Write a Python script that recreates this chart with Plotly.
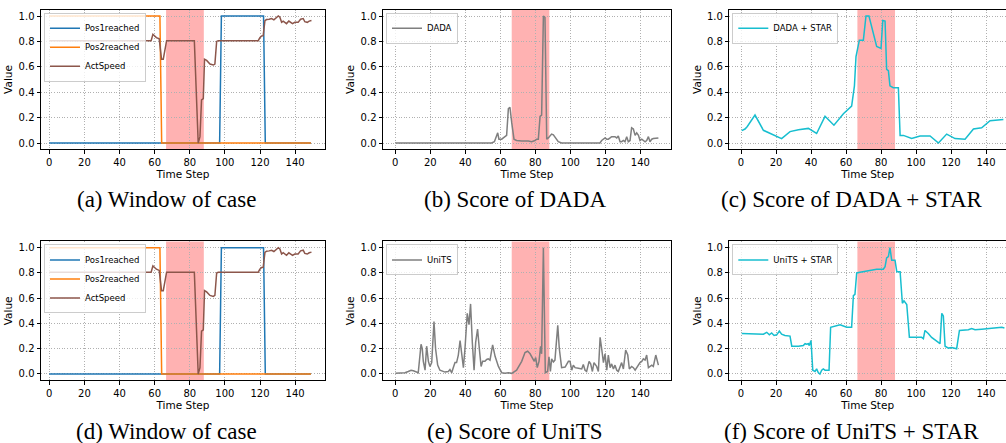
import plotly.graph_objects as go

# ---------------- data ----------------
TICKS_X = [0, 20, 40, 60, 80, 100, 120, 140]
TICKS_Y = [0.0, 0.2, 0.4, 0.6, 0.8, 1.0]
TICKTEXT_Y = ["0.0", "0.2", "0.4", "0.6", "0.8", "1.0"]
ANOMALY = [66.5, 88.0]

# window of case (panels a and d)
pos1_t = [0, 97, 98, 122, 123, 149]
pos1_v = [0, 0, 1, 1, 0, 0]
pos2_t = [0, 63, 64, 149]
pos2_v = [1, 1, 0, 0]
speed_t = [0, 58, 59, 60, 61, 62.6, 63.9, 64.9, 66.8, 82.6, 83.8, 84.8, 85.8, 86.7,
           87.7, 88.4, 89.6, 91.5, 93.4, 94.3, 95.3, 96.2, 119.0, 119.9, 120.9, 121.8,
           122.8, 123.7, 125.2, 126.6, 127.9, 129.0, 130.4, 131.3, 132.3, 133.2, 134.2,
           135.1, 136.4, 137.4, 138.5, 139.8, 141.7, 143.1, 144.6, 145.5, 146.9, 148.0,
           149.3]
speed_v = [0.806, 0.806, 0.856, 0.845, 0.83, 0.82, 0.66, 0.66, 0.806, 0.806, 0.40, 0.0,
           0.05, 0.34, 0.35, 0.66, 0.65, 0.622, 0.614, 0.622, 0.80, 0.806, 0.806, 0.83,
           0.843, 0.845, 0.963, 0.972, 0.975, 0.98, 0.97, 0.985, 1.0, 0.99, 0.95, 0.96,
           0.95, 0.94, 0.96, 0.95, 0.94, 0.95, 0.95, 0.975, 0.98, 0.955, 0.95, 0.96, 0.965]

# DADA score (panel b)
dada_t = [0, 55.0, 56.6, 57.9, 58.5, 59.2, 60.8, 61.7, 62.7, 63.6, 64.6, 65.5, 66.5,
          67.8, 69.3, 72.2, 76.0, 77.9, 79.8, 80.8, 81.7, 82.7, 83.6, 84.6, 85.5, 86.5,
          87.4, 88.4, 89.3, 90.3, 91.2, 93.1, 95.0, 116.9, 117.9, 118.9, 119.8, 120.8,
          121.7, 122.7, 123.6, 125.5, 126.5, 127.4, 128.4, 129.3, 130.3, 131.2, 132.2,
          133.1, 134.1, 135.0, 136.0, 137.0, 137.9, 138.9, 139.8, 140.8, 141.7, 142.7,
          143.6, 144.6, 145.5, 146.5, 147.4, 149.3, 150.3]
dada_v = [0.0, 0.0, 0.01, 0.07, 0.08, 0.03, 0.03, 0.04, 0.05, 0.06, 0.27, 0.28, 0.16,
          0.03, 0.02, 0.015, 0.015, 0.01, 0.02, 0.03, 0.03, 0.21, 0.22, 1.0, 0.99, 0.03,
          0.04, 0.06, 0.07, 0.065, 0.05, 0.01, 0.0, 0.0, 0.02, 0.03, 0.04, 0.03, 0.03,
          0.04, 0.05, 0.05, 0.04, 0.055, 0.01, 0.01, 0.02, 0.01, 0.05, 0.01, 0.02, 0.12,
          0.11, 0.06, 0.08, 0.06, 0.02, 0.03, 0.02, 0.01, 0.02, 0.05, 0.01, 0.03, 0.035,
          0.04, 0.04]

# DADA + STAR score (panel c)
dstar_t = [0.4, 2.3, 3.6, 8.0, 12.8, 17.5, 19.4, 23.2, 28.0, 32.8, 38.5, 43.2, 48.0,
           53.1, 58.5, 63.2, 64.8, 65.7, 67.6, 69.9, 71.4, 73.1, 77.5, 79.4, 80.0, 81.0,
           82.3, 83.2, 84.2, 85.1, 87.0, 89.9, 90.9, 92.8, 97.5, 102.3, 108.0, 112.8,
           117.5, 122.3, 128.0, 132.8, 137.5, 142.3, 147.0, 149.9]
dstar_v = [0.097, 0.11, 0.13, 0.22, 0.10, 0.07, 0.055, 0.035, 0.09, 0.105, 0.115, 0.075,
           0.21, 0.14, 0.23, 0.29, 0.45, 0.68, 0.81, 0.81, 1.0, 1.0, 0.76, 0.745, 0.745,
           0.965, 0.96, 0.58, 0.57, 0.45, 0.435, 0.435, 0.06, 0.06, 0.035, 0.055, 0.055,
           0.0, 0.07, 0.035, 0.03, 0.11, 0.12, 0.175, 0.18, 0.185]

# UniTS score (panel e)
units_t = [0, 3.6, 5.5, 7.4, 9.0, 10.3, 12.2, 13.1, 14.7, 15.4, 16.0, 17.0, 17.9, 18.9,
           19.8, 20.8, 22.1, 23.0, 24.2, 25.5, 28.4, 30.3, 31.2, 32.2, 33.1, 34.1, 35.0,
           36.0, 37.0, 37.9, 38.9, 39.8, 41.1, 42.1, 43.0, 44.0, 45.0, 45.9, 47.0, 48.0,
           49.0, 49.9, 51.2, 52.2, 53.1, 54.1, 55.6, 57.0, 58.9, 60.8, 62.7, 64.6, 66.5,
           69.3, 72.2, 74.1, 75.6, 77.0, 78.3, 79.4, 80.2, 81.1, 82.1, 83.0, 83.6, 84.6,
           85.7, 87.0, 87.8, 88.6, 89.3, 90.3, 91.2, 92.8, 93.7, 95.0, 97.0, 98.9, 99.8,
           100.8, 101.7, 102.7, 104.6, 106.5, 107.4, 108.4, 109.3, 110.7, 111.6, 112.6,
           113.5, 115.0, 116.0, 117.0, 117.9, 118.9, 119.8, 120.8, 121.7, 122.7, 123.6,
           124.6, 125.5, 126.5, 127.4, 128.4, 129.3, 130.3, 131.6, 132.8, 133.7, 135.0,
           136.0, 137.0, 137.9, 139.8, 140.8, 141.7, 142.7, 143.6, 144.6, 146.5, 147.4,
           148.8, 150.3]
units_v = [0.005, 0.005, 0.01, 0.02, 0.03, 0.025, 0.015, 0.01, 0.235, 0.2, 0.1, 0.03,
           0.22, 0.1, 0.06, 0.09, 0.415, 0.2, 0.07, 0.03, 0.015, 0.02, 0.035, 0.01, 0.05,
           0.09, 0.09, 0.15, 0.265, 0.15, 0.05, 0.2, 0.48, 0.39, 0.555, 0.25, 0.03, 0.25,
           0.355, 0.2, 0.06, 0.10, 0.10, 0.115, 0.12, 0.11, 0.23, 0.14, 0.06, 0.01, 0.005,
           0.01, 0.005, 0.03, 0.10, 0.17, 0.18, 0.16, 0.12, 0.10, 0.13, 0.05, 0.10, 0.22,
           0.16, 1.0, 0.01, 0.02, 0.135, 0.02, 0.12, 0.095, 0.11, 0.385, 0.2, 0.05, 0.055,
           0.10, 0.10, 0.03, 0.07, 0.05, 0.045, 0.04, 0.075, 0.03, 0.02, 0.10, 0.08, 0.02,
           0.09, 0.06, 0.02, 0.29, 0.2, 0.09, 0.16, 0.03, 0.15, 0.05, 0.08, 0.04, 0.07,
           0.03, 0.02, 0.06, 0.09, 0.04, 0.19, 0.15, 0.04, 0.06, 0.05, 0.03, 0.05, 0.09,
           0.10, 0.12, 0.11, 0.15, 0.05, 0.07, 0.06, 0.15, 0.07]

# UniTS + STAR score (panel f)
ustar_t = [0.4, 5.1, 12.8, 14.7, 16.2, 17.5, 18.9, 20.4, 21.9, 23.2, 25.1, 28.0, 29.0,
           32.8, 35.6, 36.6, 37.5, 38.5, 39.0, 40.0, 41.0, 42.3, 43.2, 44.2, 45.1, 46.1,
           47.0, 48.0, 49.3, 50.3, 51.2, 54.7, 56.6, 58.5, 60.4, 63.2, 64.2, 65.1, 66.1,
           68.0, 71.8, 75.6, 77.5, 81.3, 82.3, 83.2, 84.2, 85.1, 86.1, 88.0, 89.0, 90.9,
           92.2, 93.1, 94.7, 96.2, 98.5, 101.3, 103.2, 104.2, 105.1, 107.0, 108.9, 111.8,
           113.7, 114.7, 115.6, 116.6, 118.5, 120.4, 123.2, 124.8, 127.0, 129.9, 131.8,
           133.7, 137.5, 141.3, 144.2, 147.0, 149.0, 150.5]
ustar_v = [0.32, 0.32, 0.315, 0.33, 0.31, 0.325, 0.305, 0.31, 0.34, 0.315, 0.305, 0.30,
           0.22, 0.22, 0.225, 0.24, 0.235, 0.24, 0.225, 0.265, 0.03, 0.02, 0.04, 0.01,
           0.0, 0.03, 0.04, 0.03, 0.03, 0.03, 0.37, 0.385, 0.39, 0.38, 0.37, 0.37, 0.62,
           0.63, 0.80, 0.805, 0.815, 0.83, 0.83, 0.83, 0.85, 0.92, 0.93, 1.0, 0.90, 0.90,
           0.81, 0.81, 0.56, 0.58, 0.55, 0.29, 0.29, 0.285, 0.29, 0.28, 0.345, 0.32, 0.29,
           0.26, 0.24, 0.48, 0.46, 0.22, 0.205, 0.21, 0.20, 0.345, 0.345, 0.35, 0.36,
           0.35, 0.355, 0.36, 0.365, 0.365, 0.37, 0.365]

CAPTIONS = ["(a) Window of case", "(b) Score of DADA", "(c) Score of DADA + STAR",
            "(d) Window of case", "(e) Score of UniTS", "(f) Score of UniTS + STAR"]

# ---------------- layout geometry ----------------
W, H = 1006, 443
FONT = "DejaVu Sans"
BLUE, ORANGE, BROWN, GRAY, CYAN = "#1f77b4", "#ff7f0e", "#8c564b", "#7f7f7f", "#17becf"

col_px = [(41, 325), (383, 671), (729.3, 1006)]
col_rng = [[-4.72, 157.0], [-7.03, 157.5], [-6.69, 151.4]]
row_px = [(9.65, 149.35), (241.4, 380.3)]
cap_x = [166.5, 515, 851.6]
cap_y = [199, 431]

fig = go.Figure()

def add_line(ix, t, v, name, color, legend):
    fig.add_trace(go.Scatter(
        x=t, y=v, mode="lines", name=name,
        line=dict(color=color, width=1.5),
        xaxis="x" if ix == 1 else f"x{ix}", yaxis="y" if ix == 1 else f"y{ix}",
        legend=legend, showlegend=True))

legends = ["legend", "legend2", "legend3", "legend4", "legend5", "legend6"]
for ix, lg in [(1, "legend"), (4, "legend4")]:
    add_line(ix, pos1_t, pos1_v, "Pos1reached", BLUE, lg)
    add_line(ix, pos2_t, pos2_v, "Pos2reached", ORANGE, lg)
    add_line(ix, speed_t, speed_v, "ActSpeed", BROWN, lg)
add_line(2, dada_t, dada_v, "DADA", GRAY, "legend2")
add_line(3, dstar_t, dstar_v, "DADA + STAR", CYAN, "legend3")
add_line(5, units_t, units_v, "UniTS", GRAY, "legend5")
add_line(6, ustar_t, ustar_v, "UniTS + STAR", CYAN, "legend6")

layout = dict(width=W, height=H, margin=dict(l=0, r=0, t=0, b=0),
              paper_bgcolor="white", plot_bgcolor="white",
              font=dict(family=FONT, color="black"), showlegend=True)
shapes, annotations = [], []
for r in range(2):
    for c in range(3):
        ix = r * 3 + c + 1
        sx = "" if ix == 1 else str(ix)
        x0, x1 = col_px[c]
        y0, y1 = row_px[r]
        axcommon = dict(showline=True, mirror=True, linecolor="black", linewidth=1,
                        ticks="outside", ticklen=3.5, tickwidth=0.8, tickcolor="black",
                        showgrid=True, gridcolor="#b0b0b0", gridwidth=0.8,
                        griddash="1px,1.6px",
                        zeroline=False, tickfont=dict(family=FONT, size=10, color="black"),
                        automargin=False, fixedrange=True)
        layout["xaxis" + sx] = dict(domain=[x0 / W, min(x1 / W, 1.0)], range=col_rng[c],
                                    anchor="y" + sx, tickvals=TICKS_X,
                                    title=dict(text="Time Step", standoff=1,
                                               font=dict(family=FONT, size=10.5)),
                                    **axcommon)
        layout["yaxis" + sx] = dict(domain=[(H - y1) / H, (H - y0) / H], range=[-0.05, 1.05],
                                    anchor="x" + sx, tickvals=TICKS_Y, ticktext=TICKTEXT_Y,
                                    title=dict(text="Value", standoff=3,
                                               font=dict(family=FONT, size=10.5)),
                                    **axcommon)
        shapes.append(dict(type="rect", xref="x" + sx, yref=f"y{sx} domain",
                           x0=ANOMALY[0], x1=ANOMALY[1], y0=0, y1=1,
                           fillcolor="rgba(255,0,0,0.3)", line=dict(width=0), layer="below"))
        layout[legends[ix - 1]] = dict(
            x=(x0 + 3) / W, y=(H - (y0 + 3)) / H, xanchor="left", yanchor="top",
            bgcolor="rgba(255,255,255,0.8)", bordercolor="#cccccc", borderwidth=1,
            font=dict(family=FONT, size=8.5, color="black"), tracegroupgap=0)
        annotations.append(dict(text=CAPTIONS[ix - 1], xref="paper", yref="paper",
                                x=cap_x[c] / W, y=(H - cap_y[r]) / H, showarrow=False,
                                xanchor="center", yanchor="middle",
                                font=dict(family="Liberation Serif", size=23, color="black")))
layout["shapes"] = shapes
layout["annotations"] = annotations
fig.update_layout(**layout)
fig.write_html("out.html", config={"displayModeBar": False},
               post_script="document.body.style.margin='0';")
